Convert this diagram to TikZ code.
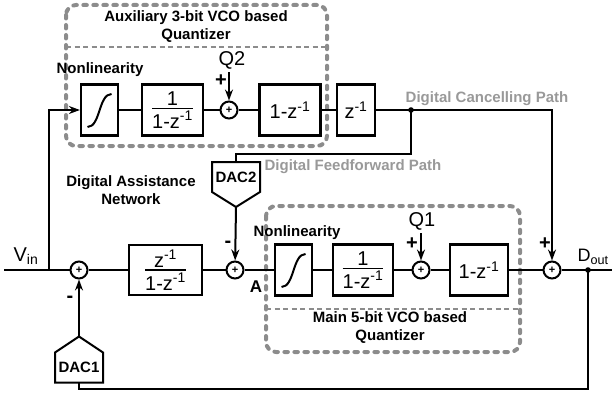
\documentclass[tikz,border=0pt]{standalone}
\usepackage{fontspec}
\setmainfont{Liberation Sans}
\usetikzlibrary{positioning, arrows.meta}
\newcommand{\frc}[2]{$\hbox{#1}\above 1.8pt\hbox{#2}$}
\newcommand{\zinv}{z\textsuperscript{-1}}
\tikzset{
    >={Stealth[length=11pt,width=8pt]}, % filled arrow heads
    wire/.style={line width=2pt}, % signal lines
    blk/.style={draw, line width=2.2pt, minimum height=51pt, inner sep=0pt, font=\fontsize{20}{22}\selectfont}, % transfer blocks
    sum/.style={draw, circle, line width=2pt, minimum size=17pt, inner sep=0pt, font=\bfseries\fontsize{11}{11}\selectfont}, % adders
    dac/.style={font=\bfseries\fontsize{15}{18}\selectfont, minimum width=48pt, minimum height=30pt, inner sep=0pt, outer sep=0pt}, % converters
    lbl/.style={font=\bfseries\fontsize{15}{18}\selectfont, align=center}, % bold labels
    sgn/.style={font=\bfseries\fontsize{20}{20}\selectfont}, % adder signs
    gtxt/.style={lbl, text=black!40}, % path names
    big/.style={font=\fontsize{20}{22}\selectfont}, % signal names
    qbox/.style={draw=black!45, line width=4pt, dash pattern=on 3.5pt off 6.5pt, line cap=round, rounded corners=10pt}, % quantizer frame
    qsep/.style={draw=black!45, line width=2pt, dash pattern=on 5pt off 3.5pt}, % frame divider
}

\begin{document}
\begin{tikzpicture}[x=1pt, y=-1pt]
    \useasboundingbox (0,0) rectangle (612,396);
    % quantizer frames
    \draw[qbox] (66,5) rectangle (327,146);
    \draw[qsep] (66,47) -- (327,47);
    \draw[qbox] (266,206) rectangle (520,352);
    \draw[qsep] (266,309) -- (520,309);
    \node[lbl] (auxt) at (196,26.5) {Auxiliary 3-bit VCO based\\Quantizer};
    \node[lbl] (maint) at (390,328) {Main 5-bit VCO based\\Quantizer};

    % auxiliary row
    \node[blk, minimum width=37pt] (nlA) at (99.5,110) {};
    \draw[wire, shift={(nlA.center)}] (-12,17) .. controls (1,17) and (-1,-16) .. (12,-16);
    \node[blk, minimum width=61pt] (intA) at (172.5,110) {\frc{1}{1-\zinv}};
    \node[sum] (sQ2) at (229,110) {+};
    \node[blk, minimum width=61pt] (difA) at (290,110) {1-\zinv};
    \node[blk, minimum width=38pt] (dly) at (356,110) {\zinv};
    \coordinate (tap) at (411,110);
    \node[lbl] (nltA) at (100,70) {Nonlinearity};
    \node[big] (q2) at (232,60) {Q2};
    \node[sgn] at (221,81) {+};

    % main row
    \coordinate (vin) at (4,270);
    \coordinate (br) at (49,270);
    \node[sum] (sIn) at (79,270) {+};
    \node[blk, minimum width=73pt, minimum height=50pt] (loop) at (165.5,270) {\frc{\zinv}{1-\zinv}};
    \node[sum] (sA) at (235,270) {+};
    \node[blk, minimum width=37pt] (nlB) at (293.5,270) {};
    \draw[wire, shift={(nlB.center)}] (-12,17) .. controls (1,17) and (-1,-16) .. (12,-16);
    \node[blk, minimum width=60pt] (intB) at (363,270) {\frc{1}{1-\zinv}};
    \node[sum] (sQ1) at (421,270) {+};
    \node[blk, minimum width=58pt] (difB) at (479,270) {1-\zinv};
    \node[sum] (sOut) at (552,270) {+};
    \coordinate (dout) at (588,270);
    \coordinate (oend) at (612,270);
    \node[lbl] (nltB) at (297,233) {Nonlinearity};
    \node[big] (q1) at (422,221) {Q1};
    \node[big] (vinl) at (26,256) {V\textsubscript{in}};
    \node[font=\fontsize{18}{20}\selectfont] (doutl) at (593,257) {D\textsubscript{out}};
    \node[sgn] at (412,244) {+};
    \node[sgn] at (545,244) {+};
    \node[sgn] at (228,244) {-};
    \node[sgn] at (70,299) {-};
    \node[font=\bfseries\fontsize{17}{17}\selectfont] (lblA) at (256,287) {A};
    \node[lbl] (dan) at (131,190.5) {Digital Assistance\\Network};

    % converters
    \node[dac] (dac2) at (236,177) {DAC2};
    \coordinate[below=15pt of dac2.south] (dac2tip);
    \draw[wire] (dac2.north west) -- (dac2.north east) -- (dac2.south east) -- (dac2tip) -- (dac2.south west) -- cycle;
    \node[dac] (dac1) at (79,367.5) {DAC1};
    \coordinate[above=16pt of dac1.north] (dac1tip);
    \draw[wire] (dac1.south west) -- (dac1.south east) -- (dac1.north east) -- (dac1tip) -- (dac1.north west) -- cycle;

    % path names
    \node[gtxt] at (487,99) {Digital Cancelling Path};
    \node[gtxt] at (353,167) {Digital Feedforward Path};

    % connections
    \draw[wire] (vin) -- (sIn) -- (loop) -- (sA) -- (nlB) -- (intB) -- (sQ1) -- (difB) -- (sOut) -- (oend);
    \draw[wire, ->] (br) |- (nlA);
    \draw[wire] (nlA) -- (intA) -- (sQ2) -- (difA) -- (dly) -- (tap);
    \draw[wire, ->] (tap) -| (sOut);
    \coordinate (ffc) at (411,154);
    \draw[wire] (tap) -- (ffc) -| (dac2);
    \draw[wire, ->] (dac2tip) -- (sA);
    \draw[wire, ->] (q2.south -| sQ2) -- (sQ2);
    \draw[wire, ->] (q1.south -| sQ1) -- (sQ1);
    \coordinate (fbc) at (588,389);
    \draw[wire] (dout) -- (fbc) -| (dac1);
    \draw[wire, ->] (dac1tip) -- (sIn);
    \fill (tap) circle (2.8pt);
    \fill (dout) circle (2.8pt);
\end{tikzpicture}
\end{document}
